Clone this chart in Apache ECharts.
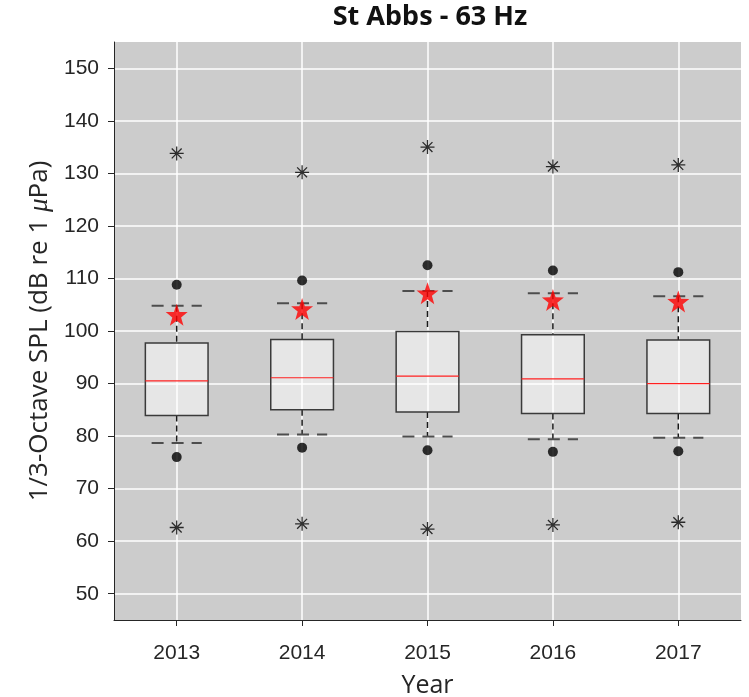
<!DOCTYPE html>
<html>
<head>
<meta charset="utf-8">
<script src="https://cdn.jsdelivr.net/npm/echarts@6/dist/echarts.min.js"></script>
<style>html,body{margin:0;padding:0;background:#fff}#c{width:749px;height:697px}</style>
</head>
<body>
<div id="c"></div>
<script>
// ---- data ----
const years   = [2013, 2014, 2015, 2016, 2017];
const maxAst  = [133.8, 130.2, 135.0, 131.3, 131.6];
const dotHi   = [108.8, 109.6, 112.5, 111.5, 111.2];
const capHi   = [104.8, 105.3, 107.6, 107.2, 106.6];
const meanVal = [103.1, 104.2, 107.2, 105.9, 105.6];
const q3      = [97.7, 98.4, 99.9, 99.3, 98.3];
const median  = [90.5, 91.1, 91.4, 90.9, 90.0];
const q1      = [83.9, 85.0, 84.6, 84.3, 84.3];
const capLo   = [78.7, 80.3, 79.9, 79.4, 79.7];
const dotLo   = [76.0, 77.8, 77.3, 77.0, 77.1];
const minAst  = [62.6, 63.3, 62.3, 63.1, 63.6];
const yTicks  = [50, 60, 70, 80, 90, 100, 110, 120, 130, 140, 150];
const xTicks  = years;

// symbol shapes
function starPath() {
  let d = '';
  for (let i = 0; i < 10; i++) {
    const r = i % 2 === 0 ? 10 : 4;
    const a = -Math.PI / 2 + i * Math.PI / 5;
    d += (i === 0 ? 'M' : 'L') + (r * Math.cos(a)).toFixed(3) + ',' + (r * Math.sin(a)).toFixed(3);
  }
  return 'path://' + d + 'Z';
}
const asterisk = 'path://M0,-10L0,10M-10,0L10,0M-7.07,-7.07L7.07,7.07M-7.07,7.07L7.07,-7.07';

const boxData = years.map((y, i) => [y, capLo[i], q1[i], median[i], q3[i], capHi[i]]);

function renderBox(params, api) {
  const x = api.value(0);
  const lo = api.coord([x, api.value(1)]);
  const b1 = api.coord([x, api.value(2)]);
  const md = api.coord([x, api.value(3)]);
  const b3 = api.coord([x, api.value(4)]);
  const hi = api.coord([x, api.value(5)]);
  const unit = api.size([1, 0])[0];
  const bw = unit * 0.5;
  const cw = unit * 0.4;
  const cx = lo[0];
  const dashW = {stroke: '#1a1a1a', lineWidth: 1.5, lineDash: [6, 4]};
  const capS = {stroke: '#4d4d4d', lineWidth: 2, lineDash: [12, 8]};
  return {
    type: 'group',
    children: [
      {type: 'line', shape: {x1: cx, y1: hi[1], x2: cx, y2: b3[1]}, style: dashW},
      {type: 'line', shape: {x1: cx, y1: b1[1], x2: cx, y2: lo[1]}, style: dashW},
      {type: 'line', shape: {x1: cx - cw / 2, y1: hi[1], x2: cx + cw / 2, y2: hi[1]}, style: capS},
      {type: 'line', shape: {x1: cx - cw / 2, y1: lo[1], x2: cx + cw / 2, y2: lo[1]}, style: capS},
      {type: 'rect', shape: {x: cx - bw / 2, y: b3[1], width: bw, height: b1[1] - b3[1]},
        style: {fill: 'rgba(255,255,255,0.5)', stroke: '#3a3a3a', lineWidth: 1.5}},
      {type: 'line', shape: {x1: cx - bw / 2, y1: md[1], x2: cx + bw / 2, y2: md[1]},
        style: {stroke: '#ff2020', lineWidth: 1.2}}
    ]
  };
}

const chart = echarts.init(document.getElementById('c'));
chart.setOption({
  animation: false,
  backgroundColor: '#ffffff',
  title: {
    text: 'St Abbs - 63 Hz',
    left: 430, top: 4, padding: 0, textAlign: 'center',
    textStyle: {fontFamily: 'Noto Sans', fontWeight: 'bold', fontSize: 27, color: '#111'}
  },
  grid: {left: 114, right: 8, top: 42, bottom: 77, show: true, backgroundColor: '#cccccc', borderWidth: 0,
    containLabel: false, outerBoundsMode: 'none'},
  xAxis: {
    type: 'value', min: 2012.5, max: 2017.5, splitNumber: 5,
    name: 'Year', nameLocation: 'middle', nameGap: 53,
    nameTextStyle: {fontFamily: 'Open Sans', fontSize: 25, color: '#262626'},
    axisLine: {show: true, onZero: false, lineStyle: {color: '#262626', width: 1}},
    axisTick: {show: true, inside: false, length: 6, customValues: xTicks, lineStyle: {color: '#262626'}},
    axisLabel: {customValues: xTicks, margin: 23, fontFamily: 'Liberation Sans', fontSize: 21, color: '#262626',
      formatter: v => String(v)},
    splitLine: {show: true, lineStyle: {color: '#ffffff', width: 1.5}}
  },
  yAxis: {
    type: 'value', min: 45, max: 155, splitNumber: 11,
    name: '{a|1/3-Octave SPL (dB re 1 }{i|μ}{a|Pa)}', nameLocation: 'middle', nameGap: 60, nameRotate: 90,
    nameTextStyle: {rich: {
      a: {fontFamily: 'Open Sans', fontSize: 26, color: '#262626'},
      i: {fontFamily: 'Liberation Serif', fontStyle: 'italic', fontSize: 27, color: '#262626'}
    }},
    axisLine: {show: true, lineStyle: {color: '#262626', width: 1}},
    axisTick: {show: true, inside: false, length: 6, customValues: yTicks, lineStyle: {color: '#262626'}},
    axisLabel: {customValues: yTicks, margin: 15, fontFamily: 'Liberation Sans', fontSize: 21, color: '#262626'},
    splitLine: {show: true, lineStyle: {color: '#ffffff', width: 1.5}}
  },
  series: [
    {type: 'custom', renderItem: renderBox, data: boxData, encode: {x: 0, y: [1, 2, 3, 4, 5]}, z: 2},
    {type: 'scatter', data: years.map((y, i) => [y, dotHi[i]]), symbol: 'circle', symbolSize: 10,
      itemStyle: {color: '#000'}, z: 3},
    {type: 'scatter', data: years.map((y, i) => [y, dotLo[i]]), symbol: 'circle', symbolSize: 10,
      itemStyle: {color: '#000'}, z: 3},
    {type: 'scatter', data: years.map((y, i) => [y, maxAst[i]]), symbol: asterisk, symbolSize: 14,
      itemStyle: {color: 'rgba(0,0,0,0)', borderColor: '#000', borderWidth: 1.3}, z: 3},
    {type: 'scatter', data: years.map((y, i) => [y, minAst[i]]), symbol: asterisk, symbolSize: 14,
      itemStyle: {color: 'rgba(0,0,0,0)', borderColor: '#000', borderWidth: 1.3}, z: 3},
    {type: 'scatter', data: years.map((y, i) => [y, meanVal[i]]), symbol: starPath(), symbolSize: 22,
      itemStyle: {color: '#ff0000'}, z: 4}
  ]
});
</script>
</body>
</html>
